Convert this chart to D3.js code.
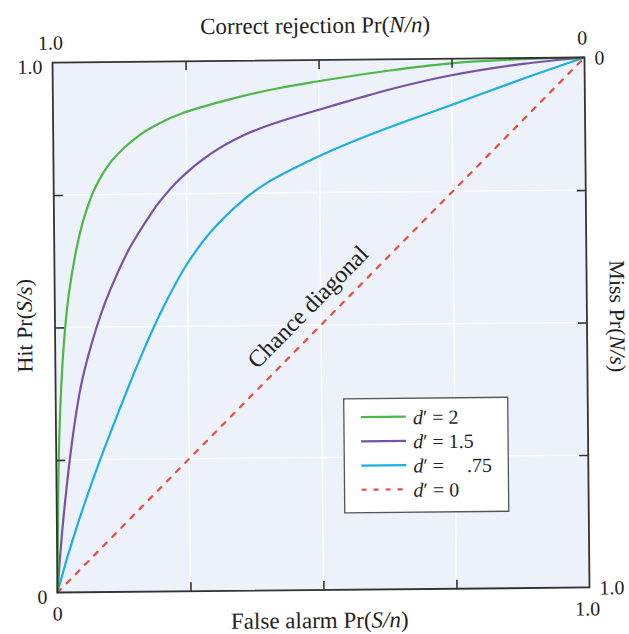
<!DOCTYPE html>
<html>
<head>
<meta charset="utf-8">
<script src="https://cdn.jsdelivr.net/npm/d3@7"></script>
<style>
  body { margin: 0; background: #ffffff; }
  svg { display: block; }
  text { font-family: "Liberation Serif", "Times New Roman", serif; fill: #231f20; }
</style>
</head>
<body>
<svg id="chart" width="629" height="634"></svg>
<script>
// ROC curves: false-alarm rate Pr(S/n) against hit rate Pr(S/s)
const faD2    = [0, 0.003, 0.006, 0.012, 0.019, 0.027, 0.043, 0.058, 0.078, 0.110, 0.163, 0.201, 0.243, 0.327, 0.421, 0.493, 0.634, 0.745, 0.884, 1];
const hitD2   = [0, 0.180, 0.290, 0.410, 0.498, 0.566, 0.654, 0.711, 0.763, 0.814, 0.862, 0.884, 0.902, 0.926, 0.947, 0.959, 0.979, 0.991, 0.998, 1];

const faD15   = [0, 0.006, 0.012, 0.019, 0.027, 0.036, 0.047, 0.062, 0.085, 0.104, 0.142, 0.181, 0.200, 0.238, 0.294, 0.357, 0.421, 0.492, 0.577, 0.653, 0.745, 0.884, 1];
const hitD15  = [0, 0.074, 0.136, 0.198, 0.262, 0.324, 0.386, 0.446, 0.520, 0.569, 0.649, 0.711, 0.737, 0.779, 0.824, 0.859, 0.883, 0.904, 0.928, 0.948, 0.968, 0.989, 1];

const faD075  = [0, 0.005, 0.020, 0.040, 0.063, 0.088, 0.114, 0.140, 0.165, 0.191, 0.211, 0.249, 0.293, 0.356, 0.401, 0.492, 0.577, 0.652, 0.744, 0.884, 1];
const hitD075 = [0, 0.018, 0.069, 0.131, 0.197, 0.264, 0.330, 0.394, 0.453, 0.510, 0.550, 0.617, 0.676, 0.737, 0.769, 0.815, 0.851, 0.879, 0.911, 0.961, 1];

// chance performance, d' = 0
const faD0    = [0, 1];
const hitD0   = [0, 1];

const dPrimeLabels = ["2", "1.5", ".75", "0"];
const tickValues = [0.25, 0.5, 0.75];
const endValues = [0, 1];
const endFormat = v => (v === 0 ? "0" : "1.0");

// frame of the square plotting area
const pLeft = 55, pRight = 587, pTop = 60, pBottom = 590;
const tilt = -0.54;

const svg = d3.select("#chart");
const g = svg.append("g")
  .attr("transform", `rotate(${tilt}, ${(pLeft + pRight) / 2}, ${(pTop + pBottom) / 2})`);

const x = d3.scaleLinear().domain([0, 1]).range([pLeft, pRight]);        // false alarm
const y = d3.scaleLinear().domain([0, 1]).range([pBottom, pTop]);        // hit
const xTop = d3.scaleLinear().domain([1, 0]).range([pLeft, pRight]);     // correct rejection
const yRight = d3.scaleLinear().domain([1, 0]).range([pBottom, pTop]);   // miss

// background panel
g.append("rect")
  .attr("x", pLeft).attr("y", pTop)
  .attr("width", pRight - pLeft).attr("height", pBottom - pTop)
  .attr("fill", "#edf2fa");

// faint white grid
g.append("g").selectAll("line").data(tickValues).join("line")
  .attr("x1", d => x(d)).attr("x2", d => x(d))
  .attr("y1", pTop).attr("y2", pBottom)
  .attr("stroke", "#ffffff").attr("stroke-width", 1.6).attr("opacity", 0.85);
g.append("g").selectAll("line").data(tickValues).join("line")
  .attr("y1", d => y(d)).attr("y2", d => y(d))
  .attr("x1", pLeft).attr("x2", pRight)
  .attr("stroke", "#ffffff").attr("stroke-width", 1.6).attr("opacity", 0.85);

// series
const series = [
  { fa: faD2,   hit: hitD2,   color: "#4db848", dash: null },
  { fa: faD15,  hit: hitD15,  color: "#7a52a5", dash: null },
  { fa: faD075, hit: hitD075, color: "#1daee3", dash: null },
  { fa: faD0,   hit: hitD0,   color: "#ec4a3c", dash: "5 8" }
];

const line = d3.line()
  .x(d => x(d[0]))
  .y(d => y(d[1]))
  .curve(d3.curveCatmullRom.alpha(0.5));

// chance diagonal first so it sits beneath the curves
[...series].reverse().forEach(s => {
  g.append("path")
    .datum(d3.zip(s.fa, s.hit))
    .attr("d", line)
    .attr("fill", "none")
    .attr("stroke", s.color)
    .attr("stroke-width", 2.2)
    .attr("stroke-dasharray", s.dash)
    .attr("stroke-linecap", s.dash ? "round" : "butt");
});

// frame
g.append("rect")
  .attr("x", pLeft).attr("y", pTop)
  .attr("width", pRight - pLeft).attr("height", pBottom - pTop)
  .attr("fill", "none").attr("stroke", "#333333").attr("stroke-width", 1.8);

// inward tick marks on all four sides
function ticks(axis, transform) {
  const a = g.append("g").attr("transform", transform)
    .call(axis.tickValues(tickValues).tickSize(-9).tickFormat(""));
  a.select(".domain").remove();
  a.selectAll(".tick line").attr("stroke", "#333333").attr("stroke-width", 1.6);
}
ticks(d3.axisBottom(x), `translate(0,${pBottom})`);
ticks(d3.axisLeft(y), `translate(${pLeft},0)`);
ticks(d3.axisTop(xTop), `translate(0,${pTop})`);
ticks(d3.axisRight(yRight), `translate(${pRight},0)`);

// end-point labels
const numSize = 20;
g.append("g").selectAll("text").data(endValues).join("text")      // false alarm
  .attr("x", d => x(d) - (d === 1 ? 2 : 0)).attr("y", pBottom + 28)
  .attr("text-anchor", "middle").attr("font-size", numSize)
  .text(endFormat);
g.append("g").selectAll("text").data(endValues).join("text")      // hit
  .attr("x", pLeft - 10).attr("y", d => y(d) + 11)
  .attr("text-anchor", "end").attr("font-size", numSize)
  .text(endFormat);
g.append("g").selectAll("text").data(endValues).join("text")      // correct rejection
  .attr("x", d => xTop(d) - 2).attr("y", pTop - 13)
  .attr("text-anchor", "middle").attr("font-size", numSize)
  .text(endFormat);
g.append("g").selectAll("text").data(endValues).join("text")      // miss
  .attr("x", pRight + 10).attr("y", d => yRight(d) + 7)
  .attr("text-anchor", "start").attr("font-size", numSize)
  .text(endFormat);

// axis titles with italic event symbols
function title(parent, parts) {
  parts.forEach(([t, it]) => {
    parent.append("tspan").attr("font-style", it ? "italic" : "normal").text(t);
  });
}
const cx = (pLeft + pRight) / 2, cy = (pTop + pBottom) / 2;

title(g.append("text").attr("x", cx - 3).attr("y", pTop - 27)
  .attr("text-anchor", "middle").attr("font-size", 23),
  [["Correct rejection Pr(", false], ["N/n", true], [")", false]]);

title(g.append("text").attr("x", cx - 4).attr("y", pBottom + 38)
  .attr("text-anchor", "middle").attr("font-size", 23),
  [["False alarm Pr(", false], ["S/n", true], [")", false]]);

title(g.append("text")
  .attr("transform", `translate(${pLeft - 23},${cy - 2}) rotate(-90)`)
  .attr("text-anchor", "middle").attr("font-size", 22),
  [["Hit Pr(", false], ["S/s", true], [")", false]]);

title(g.append("text")
  .attr("transform", `translate(${pRight + 23},${cy - 6}) rotate(90)`)
  .attr("text-anchor", "middle").attr("font-size", 22),
  [["Miss Pr(", false], ["N/s", true], [")", false]]);

// label along the chance diagonal
const diagAngle = Math.atan2(pBottom - pTop, pRight - pLeft) * 180 / Math.PI;
g.append("text")
  .attr("transform", `translate(${x(0.505)},${y(0.505)}) rotate(${-diagAngle})`)
  .attr("x", 0).attr("y", -14)
  .attr("text-anchor", "middle").attr("font-size", 24)
  .text("Chance diagonal");

// legend
const lg = g.append("g");
const lgX = 343, lgY = 399, lgW = 164, lgH = 114;
lg.append("rect")
  .attr("x", lgX).attr("y", lgY).attr("width", lgW).attr("height", lgH)
  .attr("fill", "#ffffff").attr("stroke", "#555555").attr("stroke-width", 1.3);

const rows = lg.selectAll("g.row").data(series).join("g")
  .attr("class", "row")
  .attr("transform", (d, i) => `translate(0,${lgY + 18.5 + i * 24.2})`);
rows.append("line")
  .attr("x1", 360).attr("x2", 405).attr("y1", 0).attr("y2", 0)
  .attr("stroke", d => d.color).attr("stroke-width", 2.2)
  .attr("stroke-dasharray", d => (d.dash ? "5 7" : null));
const rowText = rows.append("text")
  .attr("x", 412).attr("y", 7.5).attr("font-size", 20);
rowText.append("tspan").attr("font-style", "italic").text("d");
rowText.append("tspan").text("\u2032 = ");
rowText.append("tspan")
  .attr("dx", (d, i) => (dPrimeLabels[i].startsWith(".") ? 18 : 0))
  .text((d, i) => dPrimeLabels[i]);
</script>
</body>
</html>
